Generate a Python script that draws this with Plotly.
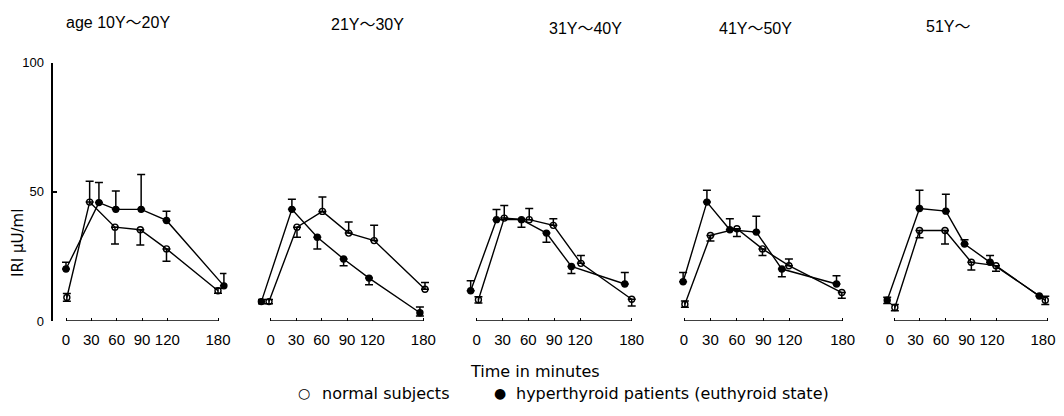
import plotly.graph_objects as go

# ---------------- data ----------------
panel_titles = ["age 10Y〜20Y", "21Y〜30Y", "31Y〜40Y", "41Y〜50Y", "51Y〜"]
tick_minutes = [0, 30, 60, 90, 120, 180]
y_ticks = [0, 50, 100]

# normal subjects (open circles): plotted time, mean, SE up / down
normal_t = [
    [1, 28, 58, 88, 119, 180],
    [-2, 31, 61, 92, 122, 182],
    [2, 32, 61, 89, 121, 180],
    [1, 30, 60, 89, 119, 179],
    [1, 30, 60, 91, 120, 178],
]
normal_v = [
    [9.1, 46.0, 36.3, 35.3, 27.9, 11.7],
    [7.5, 36.3, 42.4, 34.0, 31.1, 12.3],
    [8.2, 39.8, 39.2, 37.0, 22.3, 8.4],
    [6.5, 33.1, 35.7, 27.9, 21.4, 11.0],
    [5.2, 35.0, 35.0, 22.7, 21.4, 8.0],
]
normal_up = [
    [1.5, 8.1, 0, 0, 0, 1.0],
    [0.8, 0, 5.6, 4.3, 5.9, 2.6],
    [1.2, 4.9, 4.3, 2.6, 3.0, 0],
    [1.2, 0, 0, 0, 2.6, 0],
    [1.2, 0, 0, 0, 0, 1.6],
]
normal_dn = [
    [1.5, 0, 6.5, 5.9, 4.8, 1.0],
    [0.8, 3.9, 0, 0, 0, 0],
    [1.2, 0, 0, 0, 0, 2.6],
    [1.2, 2.2, 3.0, 2.6, 0, 2.2],
    [1.2, 2.8, 5.2, 3.0, 2.2, 1.6],
]

# hyperthyroid patients (filled circles)
hyper_t = [
    [0, 39, 59, 89, 119, 187],
    [-11, 25, 55, 86, 116, 176],
    [-7, 23, 52, 81, 110, 172],
    [-1, 26, 52, 82, 111, 173],
    [-8, 30, 61, 83, 113, 171],
]
hyper_v = [
    [20.1, 45.8, 43.2, 43.2, 38.9, 13.6],
    [7.5, 43.2, 32.4, 24.0, 16.6, 3.2],
    [11.7, 39.2, 39.2, 34.0, 21.1, 14.3],
    [15.2, 46.0, 35.3, 34.4, 20.1, 14.3],
    [8.0, 43.5, 42.5, 29.8, 22.7, 9.7],
]
hyper_up = [
    [2.6, 7.8, 7.1, 13.5, 3.6, 4.8],
    [0.8, 3.9, 0, 0, 0, 2.2],
    [3.9, 3.9, 0, 0, 0, 4.5],
    [3.6, 4.6, 4.3, 6.1, 0, 3.2],
    [1.2, 7.1, 6.5, 1.6, 2.6, 0],
]
hyper_dn = [
    [0, 0, 0, 0, 0, 0],
    [0.8, 0, 4.5, 2.6, 2.6, 1.3],
    [0, 0, 2.9, 3.5, 2.7, 0],
    [0, 0, 0, 0, 3.0, 0],
    [1.2, 0, 0, 0, 0, 0],
]

# ---------------- layout geometry (page pixels) ----------------
OFF = 8                      # page body margin in the viewer
W, H = 1064 - 2 * OFF, 416 - 2 * OFF
TICKFONT = "Liberation Sans, Arial, sans-serif"
TEXTFONT = "DejaVu Sans, sans-serif"
TITLEFONT = "Liberation Sans, Noto Sans CJK JP, sans-serif"
px0 = [66, 270.7, 476.7, 684, 894]          # page pixel of t=0
px180 = [218, 423.3, 631.7, 842.7, 1047]    # page pixel of t=180
label_shift = [0, 0, 0, 0, -4]
xr = [-15, 190]
y0_px, y100_px = 321, 62.5


def fx(px):
    return (px - OFF) / W


def fy(py):
    return 1 - (py - OFF) / H


fig = go.Figure()
layout = dict(
    template="none",
    width=W, height=H, margin=dict(l=0, r=0, t=0, b=0, pad=0, autoexpand=False),
    paper_bgcolor="white", plot_bgcolor="white", showlegend=False,
    font=dict(family=TICKFONT, color="black", size=14),
)
layout["yaxis"] = dict(
    domain=[fy(y0_px), fy(y100_px)], range=[0, 100], anchor="x", showline=True,
    linecolor="black", linewidth=1.5, ticks="inside", ticklen=4, tickwidth=1.5,
    tickcolor="black", tickvals=y_ticks, showgrid=False, zeroline=False,
    ticklabelstandoff=5, automargin=False, tickfont=dict(family=TICKFONT, size=13),
)
shapes, annotations = [], []
for k in range(5):
    ppm = (px180[k] - px0[k]) / 180.0
    d0 = fx(px0[k] + xr[0] * ppm)
    d1 = fx(px0[k] + xr[1] * ppm)
    name = "xaxis" if k == 0 else f"xaxis{k+1}"
    xref = "x" if k == 0 else f"x{k+1}"
    layout[name] = dict(
        domain=[d0, min(d1, 1.0)], range=xr, anchor="y", showline=False,
        ticks="inside", ticklen=3, tickwidth=1.2, tickcolor="black",
        tickvals=tick_minutes, ticktext=[str(t) for t in tick_minutes],
        showgrid=False, zeroline=False, ticklabelstandoff=8, automargin=False,
        ticklabelshift=label_shift[k],
        ticklabeloverflow="allow", tickfont=dict(family=TICKFONT, size=15),
    )
    shapes.append(dict(type="line", xref=xref, yref="y", x0=min(tick_minutes),
                       x1=max(tick_minutes), y0=0, y1=0,
                       line=dict(color="black", width=1.5)))
    for t_arr, v_arr, up, dn, filled in [
        (normal_t[k], normal_v[k], normal_up[k], normal_dn[k], False),
        (hyper_t[k], hyper_v[k], hyper_up[k], hyper_dn[k], True),
    ]:
        fig.add_trace(go.Scatter(
            x=t_arr, y=v_arr, xaxis=xref, yaxis="y", mode="lines+markers",
            line=dict(color="black", width=1.4),
            marker=dict(symbol="circle" if filled else "circle-open",
                        size=6, color="black",
                        line=dict(color="black", width=1.4)),
            error_y=dict(type="data", symmetric=False, array=up, arrayminus=dn,
                         color="black", thickness=1.5, width=4),
            cliponaxis=False,
        ))


def ann(text, x, y, size, family, xanchor="center", angle=0):
    annotations.append(dict(text=text, x=fx(x), y=fy(y), xref="paper", yref="paper",
                            showarrow=False, xanchor=xanchor, yanchor="middle",
                            textangle=angle, font=dict(family=family, size=size)))


# titles
title_pos = [(118, 22), (367, 24), (585, 28), (755, 28), (948, 27)]
for (x, y), txt in zip(title_pos, panel_titles):
    ann(txt, x, y, 16, TITLEFONT)
ann("IRI μU/ml", 18, 243, 15, TEXTFONT, angle=-90)
ann("Time in minutes", 535, 371, 16, TEXTFONT)
ann("○", 304, 393, 14, TEXTFONT)
ann("normal subjects", 320, 393, 16, TEXTFONT, xanchor="left")
ann("●", 500, 393, 14, TEXTFONT)
ann("hyperthyroid patients (euthyroid state)", 514, 393, 16, TEXTFONT, xanchor="left")

layout["shapes"] = shapes
layout["annotations"] = annotations
fig.update_layout(**layout)
fig.write_html("out.html")
